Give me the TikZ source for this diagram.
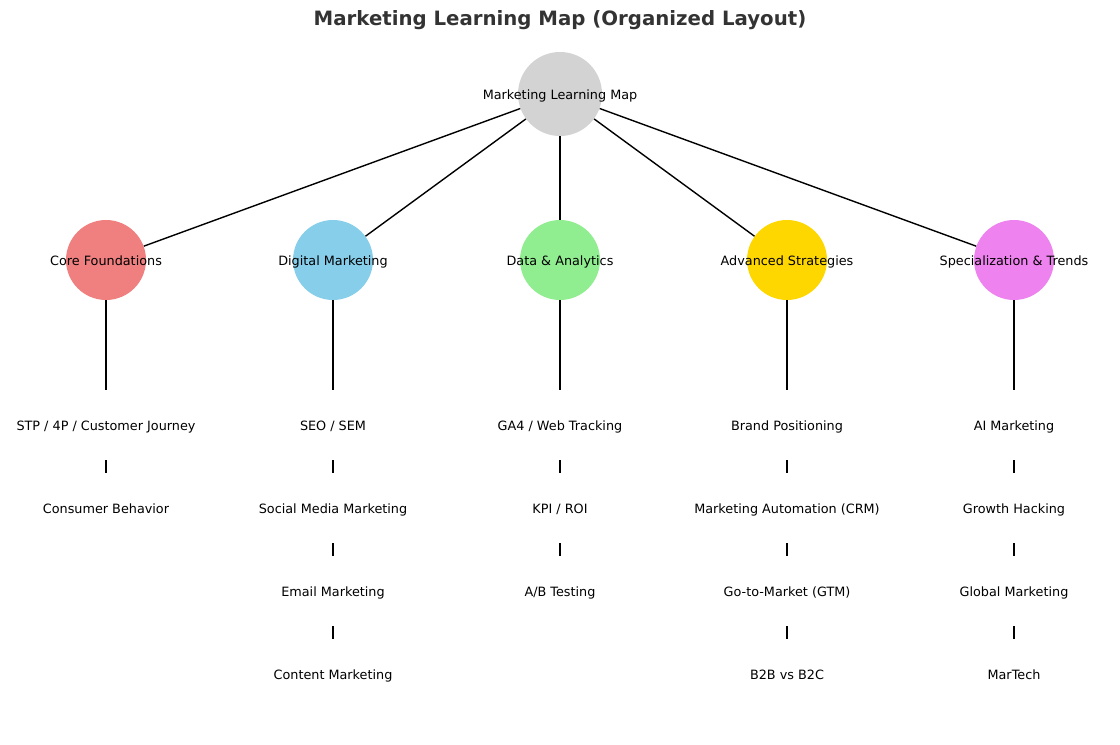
\documentclass[tikz,border=0pt]{standalone}
\usepackage{fontspec}
\setmainfont{DejaVu Sans}
\definecolor{hubc}{HTML}{D3D3D3}
\definecolor{c1}{HTML}{F08080}
\definecolor{c2}{HTML}{87CEEB}
\definecolor{c3}{HTML}{90EE90}
\definecolor{c4}{HTML}{FFD700}
\definecolor{c5}{HTML}{EE82EE}
\definecolor{titlec}{HTML}{333333}
\tikzset{
  lbl/.style={font=\fontsize{9.6}{11}\selectfont, text=black, text height=0.76em, text depth=0.24em, inner sep=0pt, yshift=-1.5pt},
  hubnode/.style={circle, fill=hubc, minimum size=63pt, inner sep=0pt, label={[lbl]center:#1}},
  catnode/.style={circle, minimum size=60pt, inner sep=0pt, label={[lbl]center:#1}},
  itemnode/.style={circle, minimum size=52.5pt, inner sep=0pt, label={[lbl]center:#1}},
  edge/.style={draw=black, line width=1.05pt}
}
\begin{document}
\begin{tikzpicture}[x=0.75pt, y=-0.75pt]
\useasboundingbox (0,0) rectangle (1120,745);
\node[font=\bfseries\fontsize{14.8}{17}\selectfont, text=titlec] (title) at (560,20) {Marketing Learning Map (Organized Layout)};
% nodes
\node[hubnode={Marketing Learning Map}] (hub) at (560,94) {};
\node[catnode={Core Foundations}, fill=c1] (a) at (106,260) {};
\node[catnode={Digital Marketing}, fill=c2] (b) at (333,260) {};
\node[catnode={Data \& Analytics}, fill=c3] (c) at (560,260) {};
\node[catnode={Advanced Strategies}, fill=c4] (d) at (787,260) {};
\node[catnode={Specialization \& Trends}, fill=c5] (e) at (1014,260) {};
% items
\node[itemnode={STP / 4P / Customer Journey}] (a1) at (106,425) {};
\node[itemnode={Consumer Behavior}] (a2) at (106,508) {};
\node[itemnode={SEO / SEM}] (b1) at (333,425) {};
\node[itemnode={Social Media Marketing}] (b2) at (333,508) {};
\node[itemnode={Email Marketing}] (b3) at (333,591) {};
\node[itemnode={Content Marketing}] (b4) at (333,674) {};
\node[itemnode={GA4 / Web Tracking}] (c1n) at (560,425) {};
\node[itemnode={KPI / ROI}] (c2n) at (560,508) {};
\node[itemnode={A/B Testing}] (c3n) at (560,591) {};
\node[itemnode={Brand Positioning}] (d1) at (787,425) {};
\node[itemnode={Marketing Automation (CRM)}] (d2) at (787,508) {};
\node[itemnode={Go-to-Market (GTM)}] (d3) at (787,591) {};
\node[itemnode={B2B vs B2C}] (d4) at (787,674) {};
\node[itemnode={AI Marketing}] (e1) at (1014,425) {};
\node[itemnode={Growth Hacking}] (e2) at (1014,508) {};
\node[itemnode={Global Marketing}] (e3) at (1014,591) {};
\node[itemnode={MarTech}] (e4) at (1014,674) {};
% edges
\foreach \x in {a,b,c,d,e} \draw[edge] (hub) -- (\x);
\draw[edge] (a) -- (a1) (a1) -- (a2);
\draw[edge] (b) -- (b1) (b1) -- (b2) (b2) -- (b3) (b3) -- (b4);
\draw[edge] (c) -- (c1n) (c1n) -- (c2n) (c2n) -- (c3n);
\draw[edge] (d) -- (d1) (d1) -- (d2) (d2) -- (d3) (d3) -- (d4);
\draw[edge] (e) -- (e1) (e1) -- (e2) (e2) -- (e3) (e3) -- (e4);
\end{tikzpicture}
\end{document}
